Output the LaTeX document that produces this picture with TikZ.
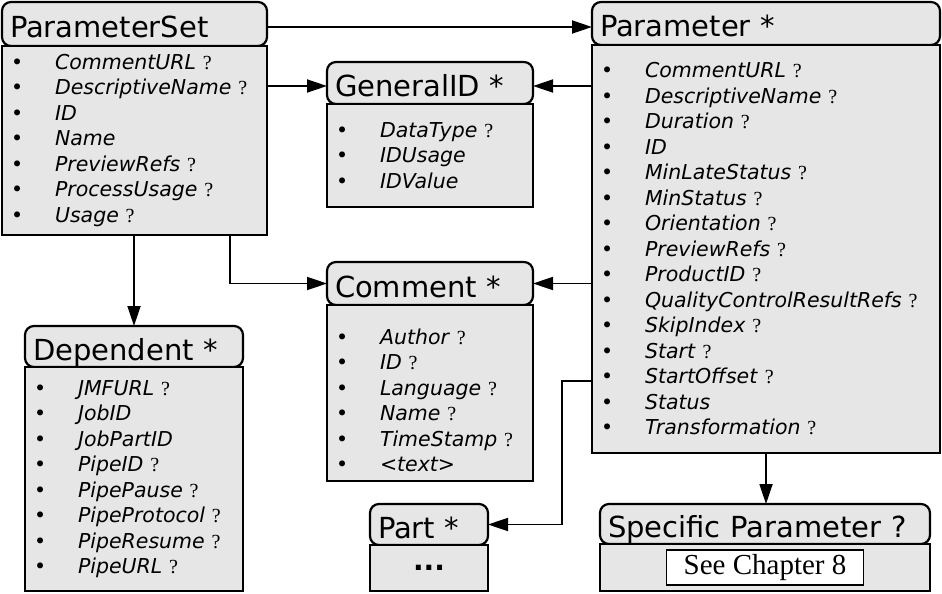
\documentclass[tikz,border=0pt]{standalone}
\usepackage{fontspec}
\usepackage{tikz}
\setmainfont{DejaVu Sans}
\newfontfamily\qmarkfont{Liberation Serif}
\usetikzlibrary{arrows.meta,positioning,calc}
\definecolor{schemagray}{HTML}{E6E6E6}
\newcommand{\opt}{\ {\qmarkfont\fontsize{20}{21}\selectfont ?}}
\newcommand{\attr}[1]{\makebox[44pt][l]{\textbullet}\textit{#1}}
\tikzset{
  classhead/.style={draw, line width=2.2pt, fill=schemagray, rounded corners=9pt, anchor=north west, outer sep=0pt, inner xsep=8pt, inner ysep=0pt, align=left, font=\fontsize{29}{34}\selectfont, text height=27pt, text depth=0pt},
  classbody/.style={draw, line width=2.2pt, fill=schemagray, anchor=north west, outer sep=0pt, inner xsep=9pt, inner ysep=0pt, align=left, font=\fontsize{20.5}{25.5}\selectfont},
  chapbox/.style={draw, line width=1.6pt, fill=white, font=\qmarkfont\fontsize{29}{34}\selectfont, minimum width=197pt, minimum height=35pt, inner sep=0pt},
  arrow/.style={-{Triangle[length=20pt,width=13pt]}, line width=1.8pt}
}

\begin{document}
\begin{tikzpicture}[x=1pt, y=-1pt]
  \useasboundingbox (0,0) rectangle (942,594);

  \node[classhead, text width=249pt, minimum height=44pt] (psethd) at (2,2) {ParameterSet};
  \node[classbody, text width=247pt, minimum height=189pt] (psetbd) at (psethd.south west) {\attr{CommentURL}\opt\\ \attr{DescriptiveName}\opt\\ \attr{ID}\\ \attr{Name}\\ \attr{PreviewRefs}\opt\\ \attr{ProcessUsage}\opt\\ \attr{Usage}\opt};

  \node[classhead, text width=190pt, minimum height=42pt] (gidhd) at (327,62) {GeneralID *};
  \node[classbody, text width=188pt, minimum height=103pt] (gidbd) at (gidhd.south west) {\attr{DataType}\opt\\ \attr{IDUsage}\\ \attr{IDValue}};

  \node[classhead, text width=332pt, minimum height=43pt] (parhd) at (592,2) {Parameter *};
  \node[classbody, text width=330pt, minimum height=408pt] (parbd) at (parhd.south west) {\attr{CommentURL}\opt\\ \attr{DescriptiveName}\opt\\ \attr{Duration}\opt\\ \attr{ID}\\ \attr{MinLateStatus}\opt\\ \attr{MinStatus}\opt\\ \attr{Orientation}\opt\\ \attr{PreviewRefs}\opt\\ \attr{ProductID}\opt\\ \attr{QualityControlResultRefs}\opt\\ \attr{SkipIndex}\opt\\ \attr{Start}\opt\\ \attr{StartOffset}\opt\\ \attr{Status}\\ \attr{Transformation}\opt};

  \node[classhead, text width=190pt, minimum height=43pt] (comhd) at (327,262) {Comment *};
  \node[classbody, text width=188pt, minimum height=176pt] (combd) at (comhd.south west) {\rule{0pt}{30pt}\attr{Author}\opt\\ \attr{ID}\opt\\ \attr{Language}\opt\\ \attr{Name}\opt\\ \attr{TimeStamp}\opt\\ \attr{<text>}};

  \node[classhead, text width=202pt, minimum height=41pt] (dephd) at (25,326) {Dependent *};
  \node[classbody, text width=200pt, minimum height=224pt] (depbd) at (dephd.south west) {\attr{JMFURL}\opt\\ \attr{JobID}\\ \attr{JobPartID}\\ \attr{PipeID}\opt\\ \attr{PipePause}\opt\\ \attr{PipeProtocol}\opt\\ \attr{PipeResume}\opt\\ \attr{PipeURL}\opt};

  \node[classhead, text width=102pt, minimum height=41pt] (parthd) at (370,504) {Part *};
  \node[classbody, minimum width=118pt, minimum height=46pt, font=\fontsize{28}{30}\selectfont\bfseries] (partbd) at (parthd.south west) {...};

  \node[classhead, text width=314pt, minimum height=40pt] (sphd) at (600,504) {Specific Parameter ?};
  \node[classbody, minimum width=330pt, minimum height=47pt] (spbd) at (sphd.south west) {};
  \node[chapbox] (chap) at (spbd.center) {See Chapter 8};

  \draw[arrow] ([yshift=-3pt]psethd.east) -- ([yshift=-3pt]psethd.east -| parhd.west);
  \draw[arrow] (psetbd.east |- gidhd.west) ++(0,3) -- ([yshift=-3pt]gidhd.west);
  \draw[arrow] (parbd.west |- gidhd.east) ++(0,3) -- ([yshift=-3pt]gidhd.east);
  \draw[arrow] ([xshift=228pt]psetbd.south west) |- (comhd.west);
  \draw[arrow] (parbd.west |- comhd.east) -- (comhd.east);
  \draw[arrow] (psetbd.south -| dephd.north) -- (dephd.north);
  \coordinate (partbend) at (562,381);
  \draw[arrow] (parbd.west |- partbend) -- (partbend) |- (parthd.east);
  \draw[arrow] (parbd.south) -- (parbd.south |- sphd.north);
\end{tikzpicture}
\end{document}
